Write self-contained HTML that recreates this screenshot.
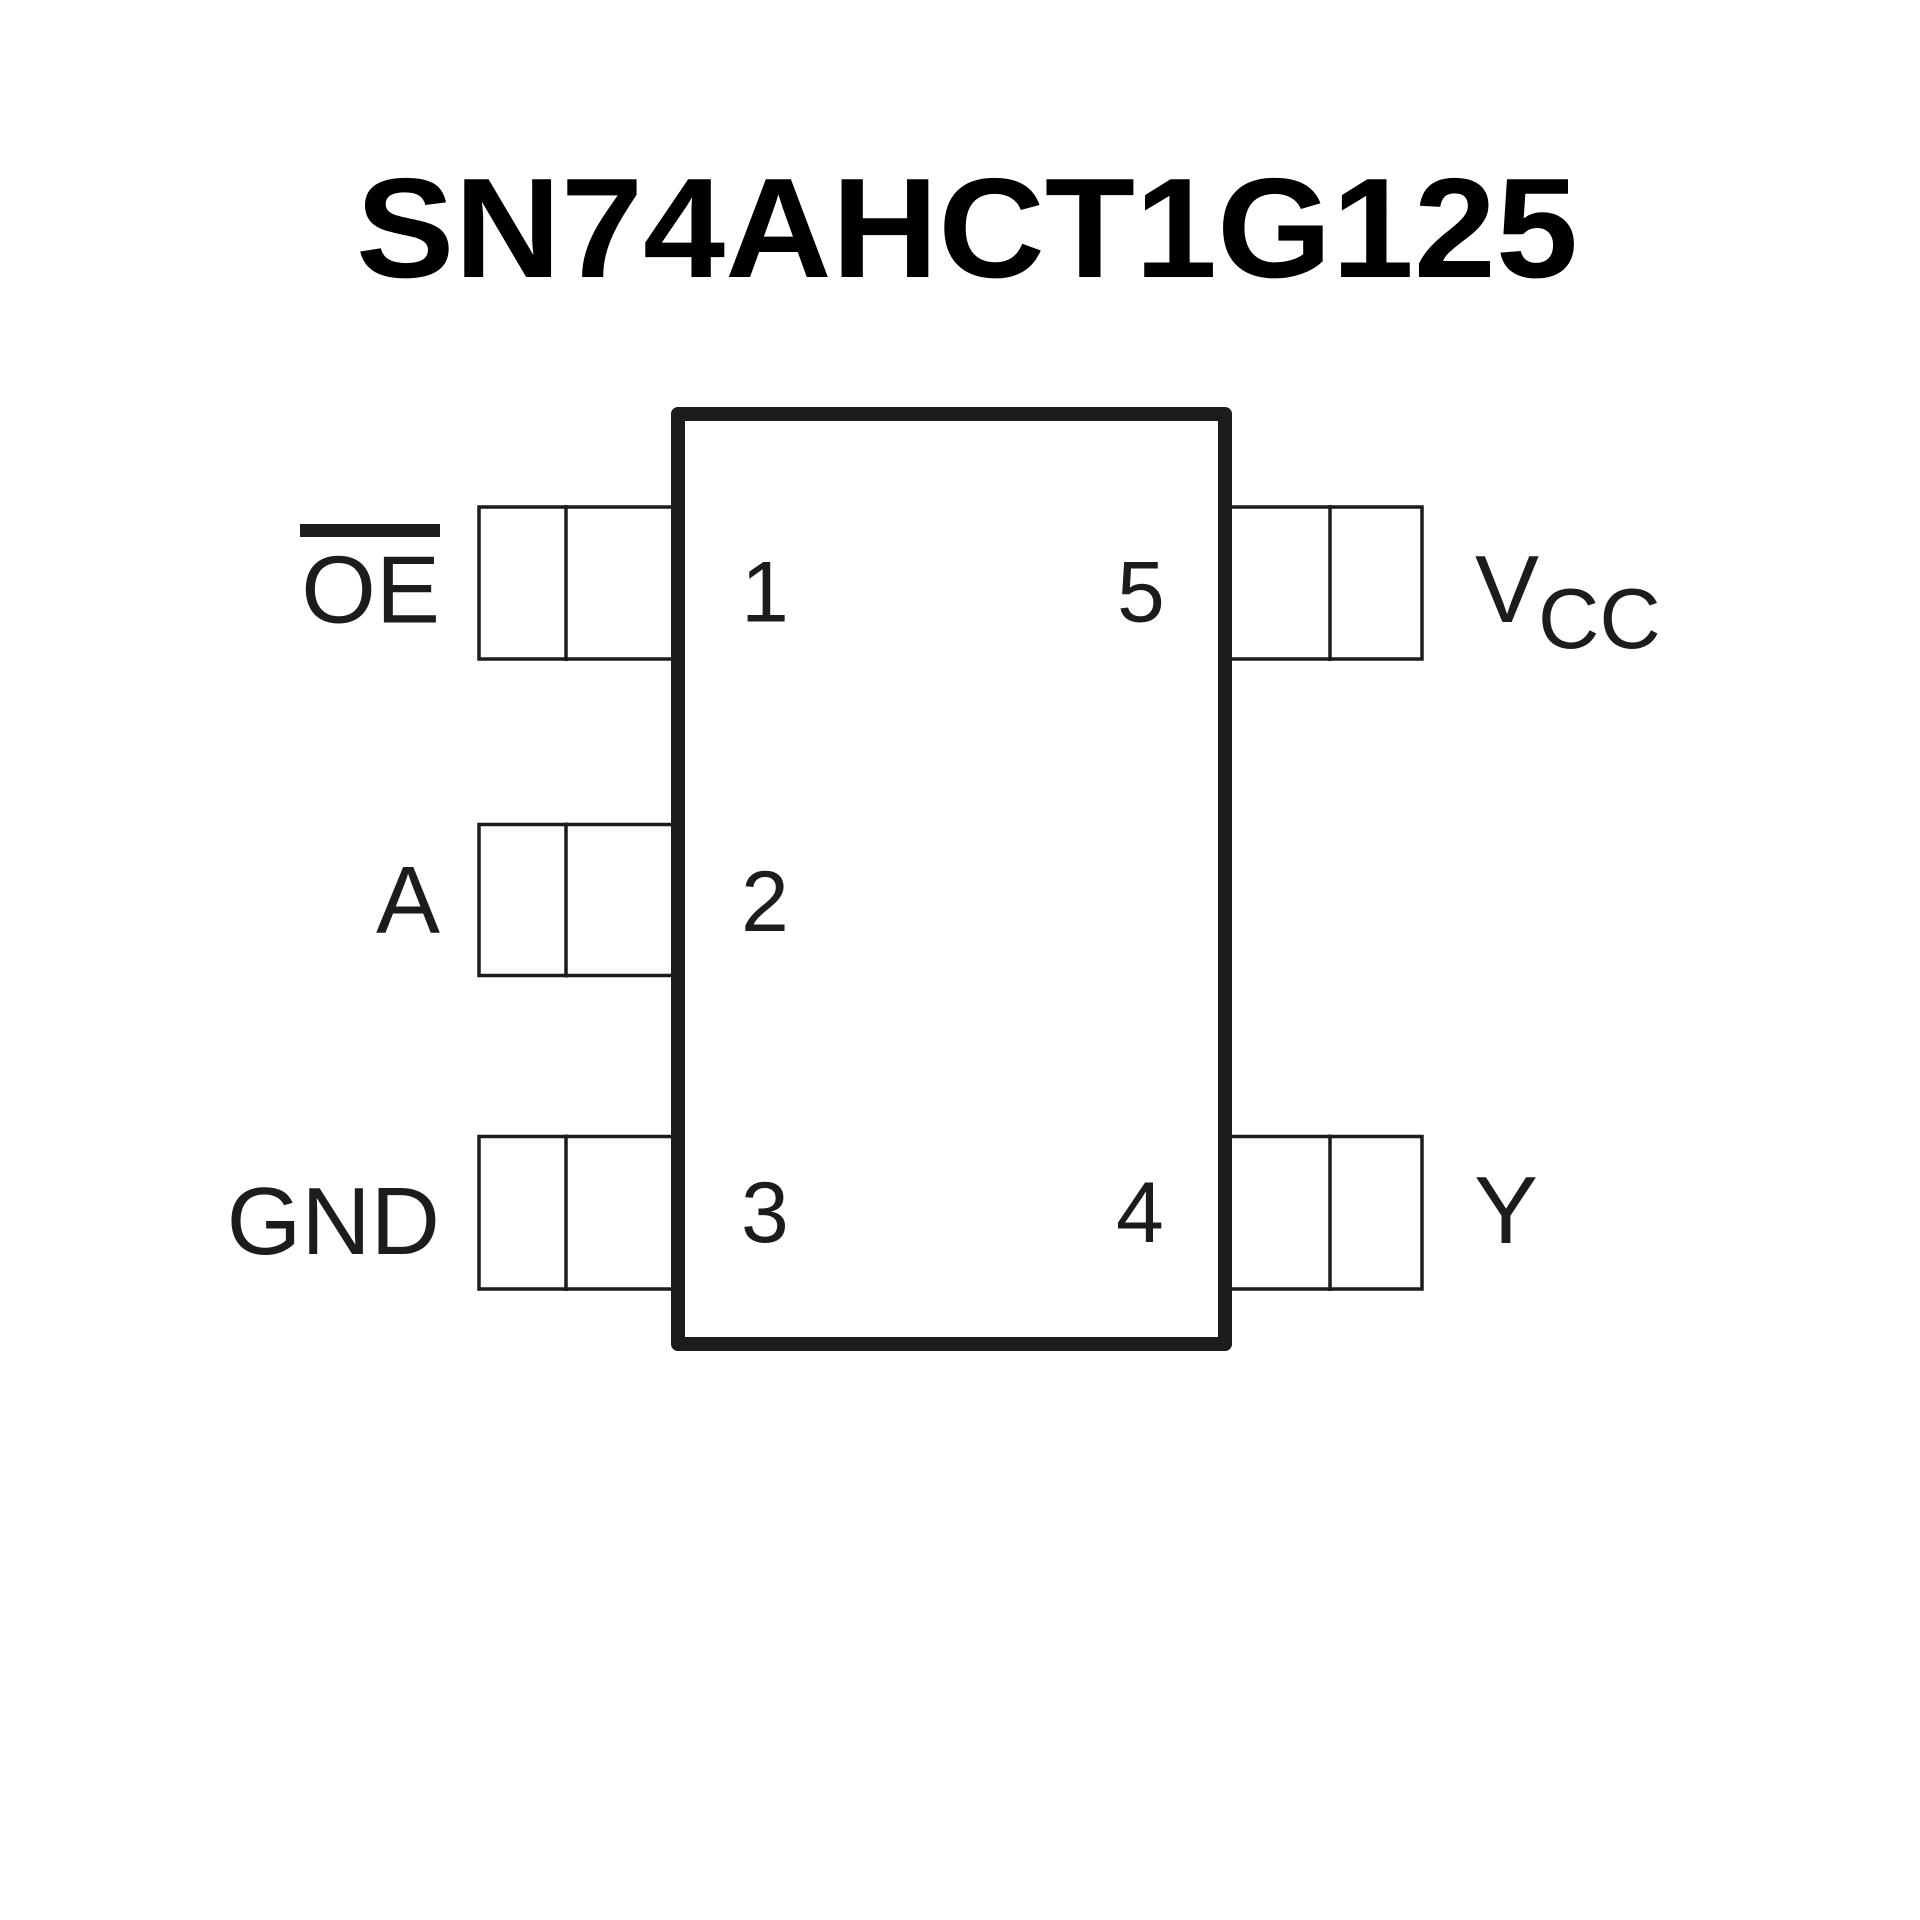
<!DOCTYPE html>
<html>
<head>
<meta charset="utf-8">
<style>
  html, body { margin: 0; padding: 0; background: #ffffff; }
  body { width: 1920px; height: 1920px; overflow: hidden; }
  svg { display: block; }
</style>
</head>
<body>
<svg width="1920" height="1920" viewBox="0 0 1920 1920" xmlns="http://www.w3.org/2000/svg">
  <rect x="0" y="0" width="1920" height="1920" fill="#ffffff"/>

  <!-- Title -->
  <text x="356" y="277" font-family="'Liberation Sans', Arial, sans-serif" font-weight="bold" font-size="142" fill="#000" textLength="1222" lengthAdjust="spacingAndGlyphs">SN74AHCT1G125</text>

  <!-- Chip body -->
  <rect x="678" y="414" width="547" height="930" fill="none" stroke="#1c1c1c" stroke-width="14" stroke-linejoin="round"/>

  <g fill="none" stroke="#1c1c1c" stroke-width="3.5">
    <!-- Left pins -->
    <path d="M671 507 H479 V659 H671"/>
    <line x1="566" y1="505" x2="566" y2="661"/>

    <path d="M671 824.5 H479 V975.5 H671"/>
    <line x1="566" y1="822.5" x2="566" y2="977.5"/>

    <path d="M671 1136.5 H479 V1289 H671"/>
    <line x1="566" y1="1134.5" x2="566" y2="1291"/>

    <!-- Right pins -->
    <path d="M1232 507 H1422 V659 H1232"/>
    <line x1="1330" y1="505" x2="1330" y2="661"/>

    <path d="M1232 1136.5 H1422 V1289 H1232"/>
    <line x1="1330" y1="1134.5" x2="1330" y2="1291"/>
  </g>

  <!-- Left labels -->
  <g font-family="'Liberation Sans', Arial, sans-serif" font-size="96" fill="#1c1c1c" text-anchor="end">
    <text x="440" y="622.5">OE</text>
    <text x="440" y="933">A</text>
    <text x="440" y="1254">GND</text>
  </g>
  <rect x="300" y="524" width="140" height="13" fill="#1c1c1c"/>

  <!-- Right labels -->
  <g font-family="'Liberation Sans', Arial, sans-serif" fill="#1c1c1c">
    <text x="1475" y="622" font-size="96">V</text>
    <text x="1538" y="648" font-size="85">CC</text>
    <text x="1474" y="1243" font-size="96">Y</text>
  </g>

  <!-- Pin numbers -->
  <g font-family="'Liberation Sans', Arial, sans-serif" font-size="86" fill="#1c1c1c">
    <text x="741" y="621.5">1</text>
    <text x="741" y="931">2</text>
    <text x="741" y="1242">3</text>
    <text x="1116" y="1242">4</text>
    <text x="1117" y="621.5">5</text>
  </g>
</svg>
</body>
</html>
